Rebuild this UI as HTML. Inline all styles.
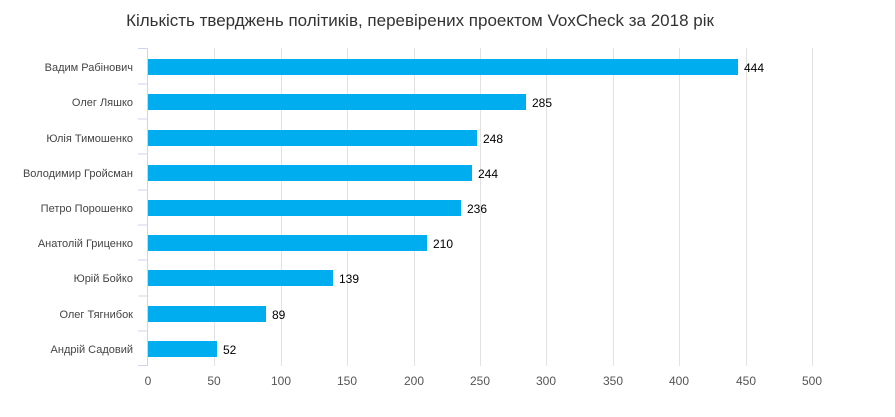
<!DOCTYPE html>
<html><head><meta charset="utf-8"><style>
body{margin:0;background:#fff;}
svg{display:block;font-family:"Liberation Sans","DejaVu Sans",sans-serif;}
</style></head><body>
<svg width="895" height="417" viewBox="0 0 895 417">
<text x="420" y="26" text-anchor="middle" font-size="17" fill="#333">Кількість тверджень політиків, перевірених проектом VoxCheck за 2018 рік</text>
<g stroke="#e2e2e2" stroke-width="1">
<line x1="214.5" y1="48" x2="214.5" y2="366"/><line x1="281.5" y1="48" x2="281.5" y2="366"/>
<line x1="347.5" y1="48" x2="347.5" y2="366"/><line x1="414.5" y1="48" x2="414.5" y2="366"/>
<line x1="480.5" y1="48" x2="480.5" y2="366"/><line x1="546.5" y1="48" x2="546.5" y2="366"/>
<line x1="613.5" y1="48" x2="613.5" y2="366"/><line x1="679.5" y1="48" x2="679.5" y2="366"/>
<line x1="746.5" y1="48" x2="746.5" y2="366"/><line x1="812.5" y1="48" x2="812.5" y2="366"/>
</g>
<g stroke="#ccd6eb" stroke-width="1">
<line x1="147.5" y1="48" x2="147.5" y2="366"/>
<line x1="138" y1="48.5" x2="148" y2="48.5"/><line x1="138" y1="84" x2="148" y2="84"/><line x1="138" y1="119" x2="148" y2="119"/>
<line x1="138" y1="154" x2="148" y2="154"/><line x1="138" y1="190" x2="148" y2="190"/><line x1="138" y1="225" x2="148" y2="225"/>
<line x1="138" y1="260" x2="148" y2="260"/><line x1="138" y1="296" x2="148" y2="296"/><line x1="138" y1="331" x2="148" y2="331"/>
<line x1="138" y1="365.5" x2="148" y2="365.5"/>
</g>
<g fill="#00aeef">
<rect x="148" y="59" width="590" height="16"/>
<rect x="148" y="94" width="378" height="16"/>
<rect x="148" y="130" width="329" height="16"/>
<rect x="148" y="165" width="324" height="16"/>
<rect x="148" y="200" width="313" height="16"/>
<rect x="148" y="235" width="279" height="16"/>
<rect x="148" y="270" width="185" height="16"/>
<rect x="148" y="306" width="118" height="16"/>
<rect x="148" y="341" width="69" height="16"/>
</g>
<g font-size="11" fill="#444" text-anchor="end">
<text x="133" y="71">Вадим Рабінович</text>
<text x="133" y="106">Олег Ляшко</text>
<text x="133" y="142">Юлія Тимошенко</text>
<text x="133" y="177">Володимир Гройсман</text>
<text x="133" y="212">Петро Порошенко</text>
<text x="133" y="247">Анатолій Гриценко</text>
<text x="133" y="282">Юрій Бойко</text>
<text x="133" y="318">Олег Тягнибок</text>
<text x="133" y="353">Андрій Садовий</text>
</g>
<g font-size="12" fill="#000">
<text x="744" y="72">444</text>
<text x="532" y="107">285</text>
<text x="483" y="143">248</text>
<text x="478" y="178">244</text>
<text x="467" y="213">236</text>
<text x="433" y="248">210</text>
<text x="339" y="283">139</text>
<text x="272" y="319">89</text>
<text x="223" y="354">52</text>
</g>
<g font-size="12" fill="#555" text-anchor="middle">
<text x="148" y="385">0</text><text x="214" y="385">50</text><text x="281" y="385">100</text>
<text x="347" y="385">150</text><text x="414" y="385">200</text><text x="480" y="385">250</text>
<text x="546" y="385">300</text><text x="613" y="385">350</text><text x="679" y="385">400</text>
<text x="746" y="385">450</text><text x="812" y="385">500</text>
</g>
</svg>
</body></html>
